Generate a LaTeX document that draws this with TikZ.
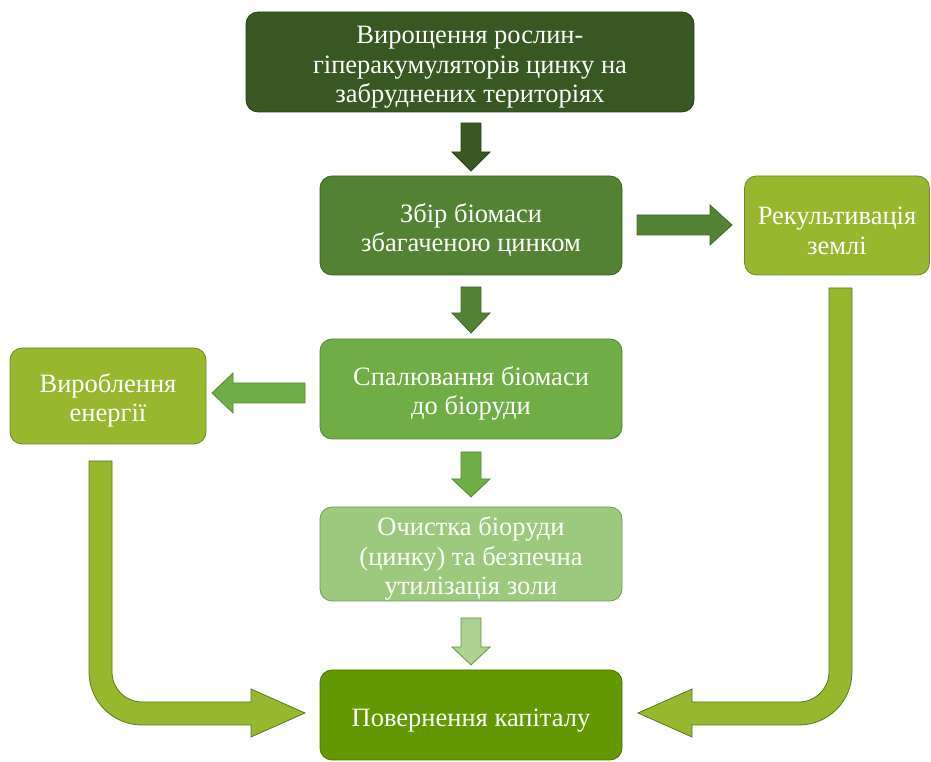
\documentclass[tikz,border=0pt]{standalone}
\usepackage{fontspec}
\setmainfont{Liberation Serif}
\definecolor{cTop}{HTML}{385723}
\definecolor{cCol}{HTML}{548235}
\definecolor{cSpal}{HTML}{70AD47}
\definecolor{cClean}{HTML}{9DC97E}
\definecolor{cCap}{HTML}{639800}
\definecolor{cOl}{HTML}{97B72F}
\definecolor{cOlLine}{HTML}{5E7A1E}
\newcommand\tp{\rule{0pt}{28pt}}
\newcommand\myvarrow[6]{% cx, top, headstart, tip, fill, draw
  \filldraw[fill=#5,draw=#6,line width=0.8pt,line join=miter]
    (#1-10,#2) -- (#1+10,#2) -- (#1+10,#3) -- (#1+19,#3) -- (#1,#4)
    -- (#1-19,#3) -- (#1-10,#3) -- cycle;}
\tikzset{
  box/.style={rectangle,rounded corners=12pt,draw=#1!75!black,fill=#1,
    line width=0.8pt,text=white,align=center,inner sep=0pt,
    font=\fontsize{26.5}{29.5}\selectfont},
}
\begin{document}
\begin{tikzpicture}[x=1pt,y=1pt]
\useasboundingbox (0,0) rectangle (931,762);
% boxes
\node[box=cTop,minimum width=448pt,minimum height=100pt] (top) at (470,700)
  {\tp Вирощення рослин-\\гіперакумуляторів цинку на\\забруднених територіях};
\node[box=cCol,minimum width=302pt,minimum height=99pt] (col) at (471,536.5)
  {\tp Збір біомаси\\збагаченою цинком};
\node[box=cOl,minimum width=185pt,minimum height=99pt] (rec) at (837,536.5)
  {\tp Рекультивація\\землі};
\node[box=cSpal,minimum width=302pt,minimum height=100pt] (spal) at (471,373)
  {\tp Спалювання біомаси\\до біоруди};
\node[box=cOl,minimum width=196pt,minimum height=96pt] (energy) at (108,366)
  {\tp Вироблення\\енергії};
\node[box=cClean,minimum width=302pt,minimum height=94pt] (clean) at (471,208)
  {\tp Очистка біоруди\\(цинку) та безпечна\\утилізація золи};
\node[box=cCap,minimum width=302pt,minimum height=90pt] (cap) at (471,47)
  {\tp Повернення капіталу};
% vertical block arrows
\myvarrow{471}{639}{610}{591}{cTop}{cTop!80!black}
\myvarrow{471}{475}{449}{429}{cCol}{cCol!80!black}
\myvarrow{471}{310}{283}{265}{cSpal}{cSpal!80!black}
\myvarrow{471}{144}{115}{97}{cClean!85!white}{cSpal!90!black}
% right arrow col -> rec
\filldraw[fill=cCol,draw=cCol!80!black,line width=0.8pt]
  (637,527) -- (710,527) -- (710,517) -- (732,537) -- (710,557)
  -- (710,547) -- (637,547) -- cycle;
% left arrow spal -> energy
\filldraw[fill=cSpal,draw=cSpal!80!black,line width=0.8pt]
  (305,359) -- (233,359) -- (233,349) -- (212,369) -- (233,389)
  -- (233,379) -- (305,379) -- cycle;
% bent arrow energy -> cap
\filldraw[fill=cOl,draw=cOlLine,line width=0.8pt]
  (89,301) -- (112,301) -- (112,90) arc[start angle=180,end angle=270,radius=30]
  -- (251,60) -- (251,73) -- (305,49) -- (251,25) -- (251,37) -- (142,37)
  arc[start angle=270,end angle=180,radius=53] -- cycle;
% bent arrow rec -> cap
\filldraw[fill=cOl,draw=cOlLine,line width=0.8pt]
  (852,474) -- (829,474) -- (829,90) arc[start angle=0,end angle=-90,radius=30]
  -- (692,60) -- (692,73) -- (638,49) -- (692,25) -- (692,37) -- (799,37)
  arc[start angle=-90,end angle=0,radius=53] -- cycle;
\end{tikzpicture}
\end{document}
